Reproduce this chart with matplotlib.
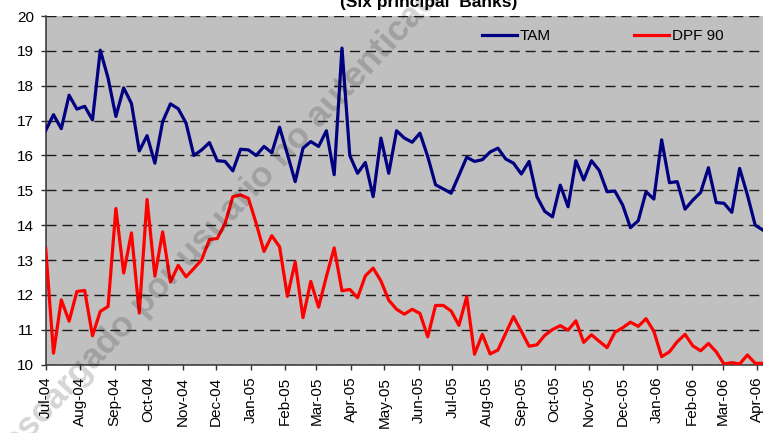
import numpy as np
import pandas as pd
import matplotlib
matplotlib.use("Agg")
import matplotlib.pyplot as plt
import matplotlib.dates as mdates

plt.rcParams['font.family'] = ['Liberation Sans', 'DejaVu Sans']

# weekly observations, Jul-04 .. Apr-06
fechas = pd.date_range('2004-07-01', periods=93, freq='7D')

tam = [16.72, 17.17, 16.77, 17.73, 17.33, 17.41, 17.02, 19.02, 18.22, 17.12,
       17.94, 17.49, 16.13, 16.57, 15.78, 16.97, 17.48, 17.34, 16.93, 16.00,
       16.16, 16.37, 15.85, 15.83, 15.56, 16.18, 16.16, 16.00, 16.26, 16.08,
       16.81, 16.04, 15.25, 16.21, 16.40, 16.26, 16.71, 15.45, 19.08, 16.00,
       15.49, 15.80, 14.82, 16.50, 15.49, 16.71, 16.50, 16.38, 16.64, 15.97,
       15.16, 15.04, 14.92, 15.43, 15.95, 15.83, 15.88, 16.10, 16.21, 15.90,
       15.78, 15.47, 15.83, 14.82, 14.40, 14.24, 15.15, 14.53, 15.85, 15.30,
       15.85, 15.57, 14.96, 14.98, 14.58, 13.93, 14.13, 14.96, 14.75, 16.45,
       15.22, 15.25, 14.46, 14.72, 14.94, 15.65, 14.65, 14.63, 14.37, 15.63,
       14.87, 14.00, 13.86]

dpf90 = [13.33, 10.33, 11.86, 11.25, 12.10, 12.13, 10.83, 11.53, 11.67, 14.48,
         12.63, 13.78, 11.48, 14.74, 12.54, 13.81, 12.37, 12.85, 12.52, 12.76,
         13.01, 13.59, 13.62, 14.05, 14.82, 14.87, 14.77, 14.05, 13.25, 13.70,
         13.38, 11.96, 12.95, 11.35, 12.39, 11.65, 12.53, 13.35, 12.12, 12.16,
         11.92, 12.55, 12.77, 12.40, 11.85, 11.59, 11.45, 11.59, 11.47, 10.80,
         11.70, 11.70, 11.54, 11.13, 11.95, 10.30, 10.87, 10.31, 10.42, 10.90,
         11.38, 10.96, 10.53, 10.57, 10.84, 11.01, 11.12, 10.99, 11.26, 10.64,
         10.86, 10.67, 10.49, 10.93, 11.06, 11.22, 11.10, 11.32, 10.96, 10.23,
         10.37, 10.66, 10.87, 10.54, 10.40, 10.61, 10.37, 10.02, 10.06, 10.02,
         10.28, 10.04, 10.04]

fig = plt.figure(figsize=(7.63, 4.33), dpi=100)
ax = fig.add_axes([0.0599, 0.1577, 0.9401, 0.8053])
ax.set_facecolor('#c0c0c0')

ax.plot(fechas, tam, color='#000080', lw=2.3, label='TAM', zorder=3)
ax.plot(fechas, dpf90, color='#ff0000', lw=2.3, label='DPF 90', zorder=3)

ax.set_ylim(10, 20)
ax.set_yticks(np.arange(10, 21, 1))
ax.set_xlim(fechas[0], fechas[-1])
ax.xaxis.set_major_locator(mdates.MonthLocator())
ax.xaxis.set_major_formatter(mdates.DateFormatter('%b-%y'))
plt.setp(ax.get_xticklabels(), rotation=90)

ax.grid(axis='y', color='#1a1a1a', lw=1.0, linestyle=(0, (7.2, 4.3)))
ax.set_axisbelow(True)
for s in ['top', 'right']:
    ax.spines[s].set_visible(False)
for s in ['left', 'bottom']:
    ax.spines[s].set_color('#333333')
    ax.spines[s].set_linewidth(1.1)
ax.tick_params(axis='both', direction='out', length=3.6, width=1.0,
               color='#333333', labelsize=11, pad=5)

fig.text(429 / 763, 0.984, '(Six principal  Banks)', ha='center',
         va='baseline', fontsize=12.5, fontweight='bold')

ax.legend(loc='center left', bbox_to_anchor=(481.7 / 763, 1 - 36 / 433),
          bbox_transform=fig.transFigure, ncol=2, frameon=False, fontsize=11,
          handlelength=2.3, handletextpad=0.2, columnspacing=5.4,
          borderpad=0, borderaxespad=0)

# marca de agua
fig.text(220 / 763, 1 - 222 / 433, 'Descargado por usuario no autenticado',
         ha='center', va='center', rotation=47, fontsize=25.5,
         fontweight='bold', color='black', alpha=0.17, zorder=10)

fig.savefig('out.png', dpi=100)
